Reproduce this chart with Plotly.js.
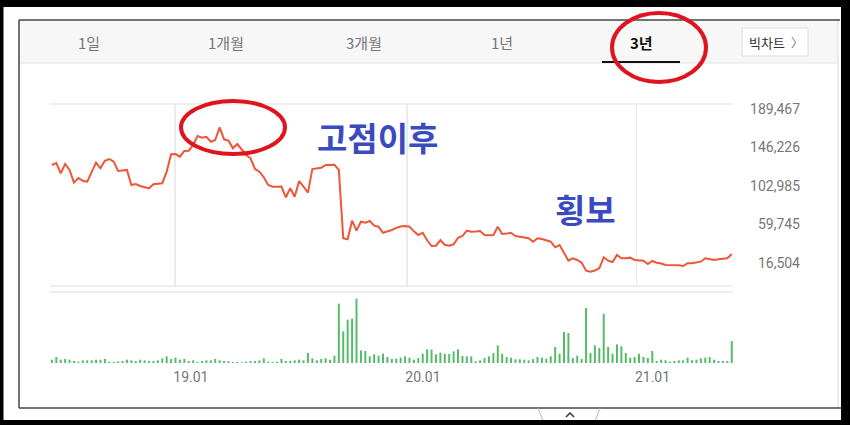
<!DOCTYPE html>
<html><head><meta charset="utf-8">
<script src="https://cdn.plot.ly/plotly-3.0.1.min.js"></script>
<style>html,body{margin:0;padding:0;background:#fff;}#chart{width:850px;height:425px;}</style>
</head><body><div id="chart"></div>
<script>
// ---- data ----
const dates = [
'2018-06-22','2018-06-29','2018-07-06','2018-07-13','2018-07-20','2018-07-27','2018-08-03','2018-08-10','2018-08-17','2018-08-24',
'2018-08-31','2018-09-07','2018-09-14','2018-09-21','2018-09-28','2018-10-05','2018-10-12','2018-10-19','2018-10-26','2018-11-02',
'2018-11-09','2018-11-16','2018-11-23','2018-11-30','2018-12-07','2018-12-14','2018-12-21','2018-12-28',
'2019-01-04','2019-01-11','2019-01-18','2019-01-25','2019-02-01','2019-02-08','2019-02-15','2019-02-22','2019-03-01','2019-03-08',
'2019-03-15','2019-03-22','2019-03-29','2019-04-05','2019-04-12','2019-04-19','2019-04-26','2019-05-03','2019-05-10','2019-05-17',
'2019-05-24','2019-05-31','2019-06-07','2019-06-14','2019-06-21','2019-06-28','2019-07-05','2019-07-12','2019-07-19','2019-07-26',
'2019-08-02','2019-08-09','2019-08-16','2019-08-23','2019-08-30','2019-09-06','2019-09-13','2019-09-20','2019-09-27','2019-10-04',
'2019-10-11','2019-10-18','2019-10-25','2019-11-01','2019-11-08','2019-11-15','2019-11-22','2019-11-29','2019-12-06','2019-12-13',
'2019-12-20','2019-12-27',
'2020-01-03','2020-01-10','2020-01-17','2020-01-24','2020-01-31','2020-02-07','2020-02-14','2020-02-21','2020-02-28','2020-03-06',
'2020-03-13','2020-03-20','2020-03-27','2020-04-03','2020-04-10','2020-04-17','2020-04-24','2020-05-01','2020-05-08','2020-05-15',
'2020-05-22','2020-05-29','2020-06-05','2020-06-12','2020-06-19','2020-06-26','2020-07-03','2020-07-10','2020-07-17','2020-07-24',
'2020-07-31','2020-08-07','2020-08-14','2020-08-21','2020-08-28','2020-09-04','2020-09-11','2020-09-18','2020-09-25','2020-10-02',
'2020-10-09','2020-10-16','2020-10-23','2020-10-30','2020-11-06','2020-11-13','2020-11-20','2020-11-27','2020-12-04','2020-12-11',
'2020-12-18','2020-12-25',
'2021-01-01','2021-01-08','2021-01-15','2021-01-22','2021-01-29','2021-02-05','2021-02-12','2021-02-19','2021-02-26','2021-03-05',
'2021-03-12','2021-03-19','2021-03-26','2021-04-02','2021-04-09','2021-04-16','2021-04-23','2021-04-30','2021-05-07','2021-05-14',
'2021-05-21','2021-05-28','2021-06-04'
];
const close = [
126600,128800,117200,127700,121000,106700,112000,108900,107800,118000,
129200,122900,131400,133300,130300,119800,120200,121000,104100,105200,
103000,101500,100400,104900,105800,106000,119100,138600,138900,135900,
142300,142600,149000,159100,157200,158300,152700,154600,168900,155400,
153900,145300,150100,144200,137800,134100,122100,119100,112800,104100,
102200,102200,102400,90300,100400,91000,108600,102200,95500,122000,
122900,123500,126600,126600,126800,121000,44300,43100,64000,52800,
62900,61800,63700,58400,57300,50500,51700,53600,56000,57500,
58100,57300,52000,48000,50500,42000,35600,35900,42300,37000,
35900,37500,44900,46800,52800,51700,51800,52400,48000,47500,
47600,57300,49100,49500,50500,46800,45800,44900,44300,40400,
44300,43500,42300,40400,34100,36700,28100,19100,21800,19900,
16800,7900,6700,8000,10600,22900,19100,17600,25500,21800,
21800,22500,19900,19500,19100,15400,18800,16800,16000,14300,
14300,14300,14000,13100,16200,16200,17000,18000,21800,20500,
19900,20700,21000,21800,26600
];
const volume = [
10,18,10,12,10,6,4,8,8,8, 10,10,12,4,3,5,6,10,8,6,
10,8,6,6,8,14,20,12,16,10, 12,6,8,3,6,8,8,12,8,6,
5,3,3,2,4,6,6,8,14,4, 3,4,12,6,6,8,10,8,30,14,
8,12,14,10,22,
178,95,130,133,193,38,36,20,26,22, 28,18,12,13,16,20,16,10,15,28,
41,40,26,31,28,27,35,41,21,20, 20,5,8,15,20,30,53,28,18,16,
11,11,10,8,12,18,16,13,20,48, 28,93,90,15,22,12,165,30,53,45,
148,48,28,56,50,30,16,18,28,18, 15,36,6,10,8,4,6,8,8,16,
8,10,14,16,18,10,6,6,6,66
];
const priceTicks = [16504, 59745, 102985, 146226, 189467];
const priceTickText = ['16,504','59,745','102,985','146,226','189,467'];
const yearTicks = ['2019-01-03','2020-01-06','2021-01-04'];
const yearTickText = ['19.01','20.01','21.01'];
const tabs = ['1일','1개월','3개월','1년','3년'];
const bigChartLabel = '빅차트';
const notes = ['고점이후','횡보'];

// ---- layout helpers (pixel -> paper) ----
const W = 850, H = 425;
const P = x => x / W;
const Q = y => 1 - y / H;

const traces = [
  {x: dates, y: close, type: 'scatter', mode: 'lines',
   line: {color: '#ee5638', width: 2}, xaxis: 'x', yaxis: 'y', hoverinfo: 'skip'},
  {x: dates, y: volume, type: 'bar', marker: {color: '#55bb68'},
   xaxis: 'x2', yaxis: 'y2', hoverinfo: 'skip'}
];

const rect = (x0,y0,x1,y1,fill,line,lw,layer) => ({type:'rect', xref:'paper', yref:'paper',
  x0:P(x0), x1:P(x1), y0:Q(y1), y1:Q(y0), fillcolor:fill||'rgba(0,0,0,0)',
  line:{color:line||'rgba(0,0,0,0)', width:lw||0}, layer:layer||'above'});
const seg = (x0,y0,x1,y1,color,lw,layer) => ({type:'line', xref:'paper', yref:'paper',
  x0:P(x0), x1:P(x1), y0:Q(y0), y1:Q(y1), line:{color:color, width:lw}, layer:layer||'above'});
const ell = (x0,y0,x1,y1) => ({type:'circle', xref:'paper', yref:'paper',
  x0:P(x0), x1:P(x1), y0:Q(y1), y1:Q(y0), line:{color:'#e0141e', width:4}, layer:'above'});

const shapes = [
  // tab bar
  rect(20,21,838,63,'#f7f7f7',null,0,'below'),
  seg(20,63,838,63,'#e2e2e2',1,'below'),
  seg(602,62,680,62,'#111',2,'above'),
  rect(742,28,808,56,'#ffffff','#dcdcdc',1,'below'),
  // panel frame lines
  seg(50,104,733,104,'#eeeeee',2,'below'),
  seg(50,286,733,286,'#eeeeee',2,'below'),
  seg(50,292,733,292,'#eeeeee',2,'below'),
  // card border
  seg(19,20,840,20,'#444',1.5),
  seg(19,20,19,408,'#444',1.5),
  seg(19,408,846,408,'#444',1.5),
  seg(838,21,838,407,'#dddddd',1),
  // bottom toggle tab
  seg(538,408,543,421,'#bbbbbb',1),
  seg(600,408,595,421,'#bbbbbb',1),
  {type:'path', xref:'paper', yref:'paper',
   path:`M ${P(566)},${Q(417)} L ${P(570)},${Q(413)} L ${P(574)},${Q(417)}`,
   line:{color:'#333', width:1.5}},
  // outer black frame
  rect(0,0,850,7,'#000'),
  rect(0,0,3.5,425,'#000'),
  rect(841,0,850,425,'#000'),
  rect(0,420,850,425,'#000'),
  // red marker ellipses
  ell(612,13,706,82),
  ell(181,101,285,154)
];

const tabX = [89, 226, 364, 502, 641];
const annotations = tabs.map((t,i) => ({
  text: i === 4 ? '<b>' + t + '</b>' : t, xref:'paper', yref:'paper', x:P(tabX[i]), y:Q(42),
  xanchor:'center', yanchor:'middle', showarrow:false,
  font:{family:'Noto Sans CJK KR, sans-serif', size:15, color: i === 4 ? '#111' : '#777'}
}));
annotations.push({text: bigChartLabel, xref:'paper', yref:'paper', x:P(767), y:Q(42),
  xanchor:'center', yanchor:'middle', showarrow:false,
  font:{family:'Noto Sans CJK KR, sans-serif', size:13, color:'#333'}});
annotations.push({text: '〉', xref:'paper', yref:'paper', x:P(797), y:Q(42),
  xanchor:'center', yanchor:'middle', showarrow:false,
  font:{family:'Noto Sans CJK KR, sans-serif', size:12, color:'#777'}});
annotations.push({text: '<b>' + notes[0] + '</b>', xref:'paper', yref:'paper', x:P(377), y:Q(137),
  xanchor:'center', yanchor:'middle', showarrow:false,
  font:{family:'Noto Sans CJK KR, sans-serif', size:33, color:'#3a4bbf'}});
annotations.push({text: '<b>' + notes[1] + '</b>', xref:'paper', yref:'paper', x:P(585), y:Q(209),
  xanchor:'center', yanchor:'middle', showarrow:false,
  font:{family:'Noto Sans CJK KR, sans-serif', size:33, color:'#3a4bbf'}});

const xRange = ['2018-06-19','2021-06-06'];
const layout = {
  width: W, height: H,
  margin: {l:0, r:0, t:0, b:0, pad:0},
  paper_bgcolor: '#ffffff', plot_bgcolor: 'rgba(0,0,0,0)',
  showlegend: false, hovermode: false, bargap: 0.55,
  xaxis: {domain:[P(50), P(733)], anchor:'y', type:'date', range:xRange,
    tickmode:'array', tickvals:yearTicks, showticklabels:false, ticks:'',
    showgrid:true, gridcolor:'#ebebeb', gridwidth:1.5, zeroline:false, showline:false},
  yaxis: {domain:[Q(286), Q(104)], anchor:'free', position:P(800), side:'left',
    range:[-9327, 195077], tickmode:'array', tickvals:priceTicks, ticktext:priceTickText,
    showgrid:false, zeroline:false, showline:false, ticks:'',
    tickfont:{family:'Roboto, sans-serif', size:14, color:'#777'}},
  xaxis2: {domain:[P(50), P(733)], anchor:'y2', type:'date', range:xRange,
    tickmode:'array', tickvals:yearTicks, ticktext:yearTickText, ticks:'',
    ticklabelshift:16, ticklabelstandoff:4,
    showgrid:false, zeroline:false, showline:false,
    tickfont:{family:'Roboto, sans-serif', size:14, color:'#777'}},
  yaxis2: {domain:[Q(363), Q(292)], anchor:'x2', range:[0, 213], visible:false,
    showgrid:false, zeroline:false},
  shapes: shapes,
  annotations: annotations
};

Plotly.newPlot('chart', traces, layout, {displayModeBar:false, staticPlot:true});
</script></body></html>
